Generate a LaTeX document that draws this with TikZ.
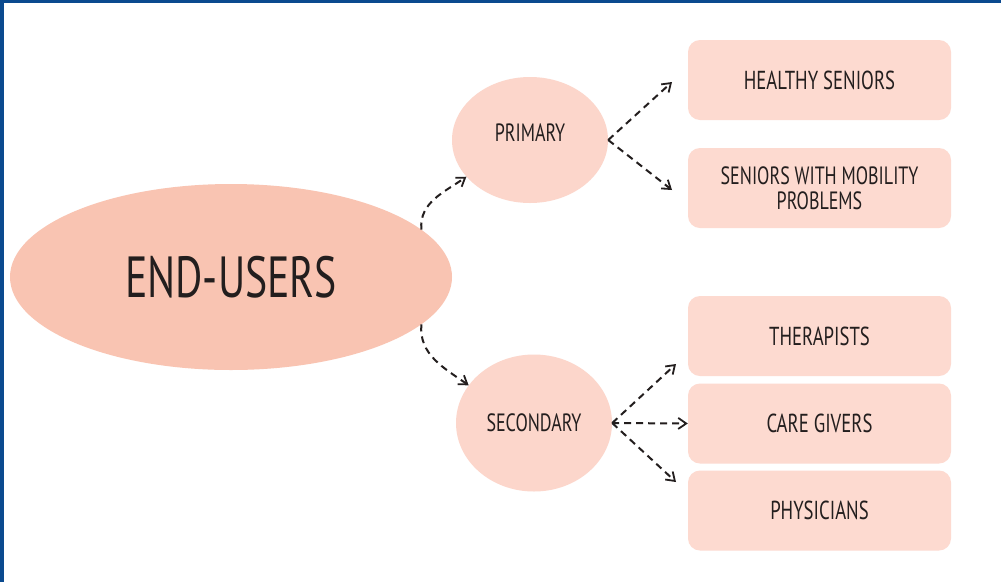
\documentclass[tikz,border=0pt]{standalone}
\usepackage{fontspec}
\setmainfont[FakeStretch=0.72]{PT Sans}
\usepackage{tikz}
\usetikzlibrary{arrows.meta, calc, shapes.geometric}

\definecolor{frameblue}{RGB}{11,74,143}
\definecolor{endfill}{RGB}{249,196,178}
\definecolor{groupfill}{RGB}{252,214,203}
\definecolor{userfill}{RGB}{253,218,208}
\definecolor{inkgray}{RGB}{35,30,30}

\tikzset{
  endnode/.style={ellipse, fill=endfill, minimum width=442pt, minimum height=186pt, inner sep=0pt, font=\fontsize{58}{60}\selectfont, text=inkgray},
  groupnode/.style={ellipse, fill=groupfill, minimum width=156pt, inner sep=0pt, font=\fontsize{25}{28}\selectfont, text=inkgray},
  usernode/.style={rectangle, rounded corners=12pt, fill=userfill, minimum width=263pt, minimum height=80pt, inner sep=0pt, align=center, font=\fontsize{26}{27}\selectfont, text=inkgray},
  dasharrow/.style={-{Straight Barb[length=8pt, width=11pt, line width=1.8pt]}, dash pattern=on 7pt off 5pt, line width=2pt, inkgray}
}

\begin{document}
\begin{tikzpicture}[x=1pt, y=-1pt]
\useasboundingbox (0,0) rectangle (1001,582);
\fill[white] (0,0) rectangle (1001,582);
\fill[frameblue] (0,0) rectangle (1001,3);
\fill[frameblue] (0,0) rectangle (4,582);

\node[endnode] (E) at (231,277) {END-USERS};
\node[groupnode, minimum height=126pt, text depth=14pt] (P) at (530,140) {PRIMARY};
\node[groupnode, minimum height=137pt] (S) at (534,423) {SECONDARY};

\node[usernode] (H) at (819.5,80) {HEALTHY SENIORS};
\node[usernode, font=\fontsize{25}{25}\selectfont] (M) at (819.5,188) {SENIORS WITH MOBILITY\\PROBLEMS};
\node[usernode] (T) at (819.5,336) {THERAPISTS};
\node[usernode] (C) at (819.5,423.5) {CARE GIVERS};
\node[usernode] (Y) at (819.5,510.5) {PHYSICIANS};

% free ends of the arrows
\coordinate (h1) at (672,82);
\coordinate (m1) at (672,190);
\coordinate (t1) at (676,364);
\coordinate (y1) at (676,482);

\draw[dasharrow] (E.14) to[out=95, in=215] (P.210);
\draw[dasharrow] (E.-14) to[out=-95, in=145] (S.150);
\draw[dasharrow] (P.east) -- (h1);
\draw[dasharrow] (P.east) -- (m1);
\draw[dasharrow] (S.east) -- (t1);
\draw[dasharrow] (S.east) -- (C.west);
\draw[dasharrow] (S.east) -- (y1);
\end{tikzpicture}
\end{document}
